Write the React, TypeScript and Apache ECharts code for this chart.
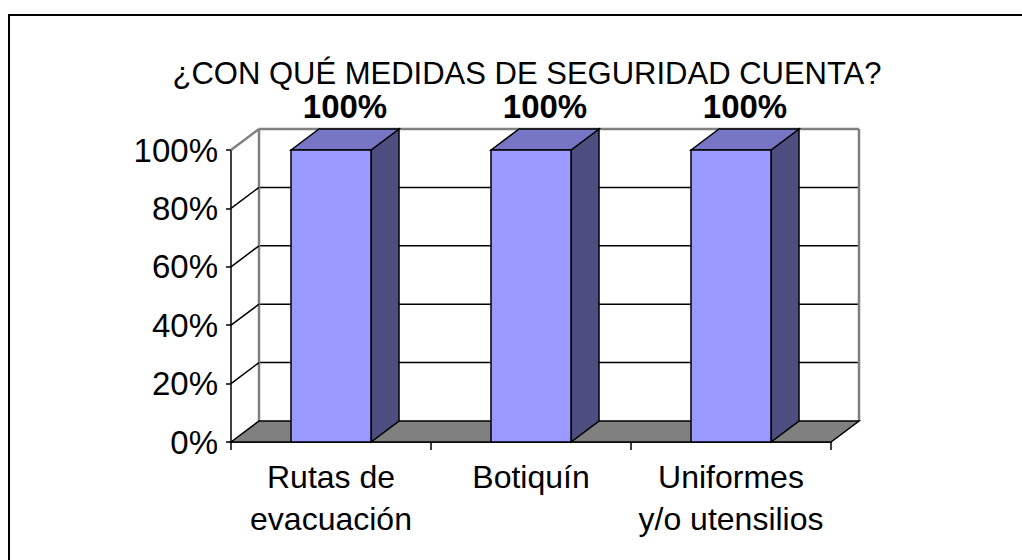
import React, { useEffect, useRef } from "react";
import * as echarts from "echarts";

const titleText = "¿CON QUÉ MEDIDAS DE SEGURIDAD CUENTA?";
const categories = ["Rutas de\nevacuación", "Botiquín", "Uniformes\ny/o utensilios"];
const values = [100, 100, 100];
const yTicks = [0, 20, 40, 60, 80, 100];

const DX = 28;
const DY = -21;
const FONT = "'Liberation Sans', Arial, sans-serif";

export default function App() {
  const ref = useRef<HTMLDivElement>(null);
  useEffect(() => {
    if (!ref.current) return;
    const chart = echarts.init(ref.current, null, { renderer: "svg" });

    const wallsRender = (params: any, api: any) => {
      const cs = params.coordSys;
      const x0 = cs.x;
      const x1 = cs.x + cs.width;
      const yOf = (v: number) => api.coord([0, v])[1];
      const children: any[] = [];
      const yTop = yOf(100);
      const yBot = yOf(0);
      yTicks.forEach((t) => {
        if (t === 0) return;
        const y = yOf(t) + DY;
        children.push({
          type: "line",
          shape: { x1: x0 + DX, y1: y, x2: x1 + DX, y2: y },
          style: { stroke: t === 100 ? "#808080" : "#000", lineWidth: t === 100 ? 2.5 : 1.5 },
        });
      });
      children.push({
        type: "line",
        shape: { x1: x0 + DX, y1: yTop + DY, x2: x0 + DX, y2: yBot + DY },
        style: { stroke: "#808080", lineWidth: 2.5 },
      });
      children.push({
        type: "line",
        shape: { x1: x1 + DX, y1: yTop + DY, x2: x1 + DX, y2: yBot + DY },
        style: { stroke: "#808080", lineWidth: 2.5 },
      });
      yTicks.forEach((t) => {
        if (t === 0) return;
        const y = yOf(t);
        children.push({
          type: "line",
          shape: { x1: x0, y1: y, x2: x0 + DX, y2: y + DY },
          style: { stroke: t === 100 ? "#808080" : "#000", lineWidth: t === 100 ? 2.5 : 1.5 },
        });
      });
      children.push({
        type: "polygon",
        shape: {
          points: [
            [x0, yBot],
            [x0 + DX, yBot + DY],
            [x1 + DX, yBot + DY],
            [x1, yBot],
          ],
        },
        style: { fill: "#808080", stroke: "#000", lineWidth: 1.5 },
      });
      return { type: "group", children };
    };

    const barRender = (params: any, api: any) => {
      const cat = api.value(0);
      const val = api.value(1);
      const top = api.coord([cat, val]);
      const bot = api.coord([cat, 0]);
      const w = api.size([1, 0])[0] * 0.4;
      const xl = top[0] - w / 2;
      const xr = top[0] + w / 2;
      const yt = top[1];
      const yb = bot[1];
      return {
        type: "group",
        children: [
          {
            type: "polygon",
            shape: { points: [[xr, yt], [xr + DX, yt + DY], [xr + DX, yb + DY], [xr, yb]] },
            style: { fill: "#4D4D80", stroke: "#000", lineWidth: 1.5 },
          },
          {
            type: "polygon",
            shape: { points: [[xl, yt], [xl + DX, yt + DY], [xr + DX, yt + DY], [xr, yt]] },
            style: { fill: "#7676C4", stroke: "#000", lineWidth: 1.5 },
          },
          {
            type: "rect",
            shape: { x: xl, y: yt, width: w, height: yb - yt },
            style: { fill: "#9999FF", stroke: "#000", lineWidth: 1.5 },
          },
          {
            type: "text",
            x: (xl + xr + DX) / 2,
            y: yt + DY - 6,
            style: {
              text: val + "%",
              fill: "#000",
              font: "bold 33px " + FONT,
              align: "center",
              verticalAlign: "bottom",
            },
          },
        ],
      };
    };

    chart.setOption({
      animation: false,
      backgroundColor: "#fff",
      title: {
        text: titleText,
        left: 522,
        top: 51,
        textAlign: "center",
        textStyle: { fontFamily: FONT, fontSize: 31, fontWeight: "normal", color: "#000", lineHeight: 34 },
      },
      graphic: [
        {
          type: "rect",
          shape: { x: 9, y: 15, width: 1100, height: 600 },
          style: { fill: "none", stroke: "#000", lineWidth: 2 },
          silent: true,
        },
      ],
      grid: { left: 231, top: 150, width: 600, height: 292 },
      xAxis: {
        type: "category",
        data: categories,
        boundaryGap: true,
        axisLine: { show: true, lineStyle: { color: "#000", width: 1.5 } },
        axisTick: { show: true, length: 8, lineStyle: { color: "#000", width: 1.5 } },
        axisLabel: {
          color: "#000",
          fontFamily: FONT,
          fontSize: 32,
          lineHeight: 42,
          margin: 14,
          interval: 0,
        },
        splitLine: { show: false },
      },
      yAxis: {
        type: "value",
        min: 0,
        max: 100,
        interval: 20,
        axisLine: { show: true, lineStyle: { color: "#000", width: 1.5 } },
        axisTick: { show: true, length: 5, lineStyle: { color: "#000", width: 1.5 } },
        axisLabel: {
          color: "#000",
          fontFamily: FONT,
          fontSize: 33,
          margin: 13,
          formatter: "{value}%",
        },
        splitLine: { show: false },
      },
      series: [
        {
          type: "custom",
          z: 1,
          silent: true,
          renderItem: wallsRender,
          data: [[0, 0]],
          encode: { x: 0, y: 1 },
        },
        {
          type: "custom",
          z: 3,
          renderItem: barRender,
          data: values.map((v, i) => [i, v]),
          encode: { x: 0, y: 1 },
        },
      ],
    });
    return () => chart.dispose();
  }, []);
  return (
    <div
      ref={ref}
      style={{ position: "absolute", left: 0, top: 0, width: 1022, height: 560, background: "#fff" }}
    />
  );
}
